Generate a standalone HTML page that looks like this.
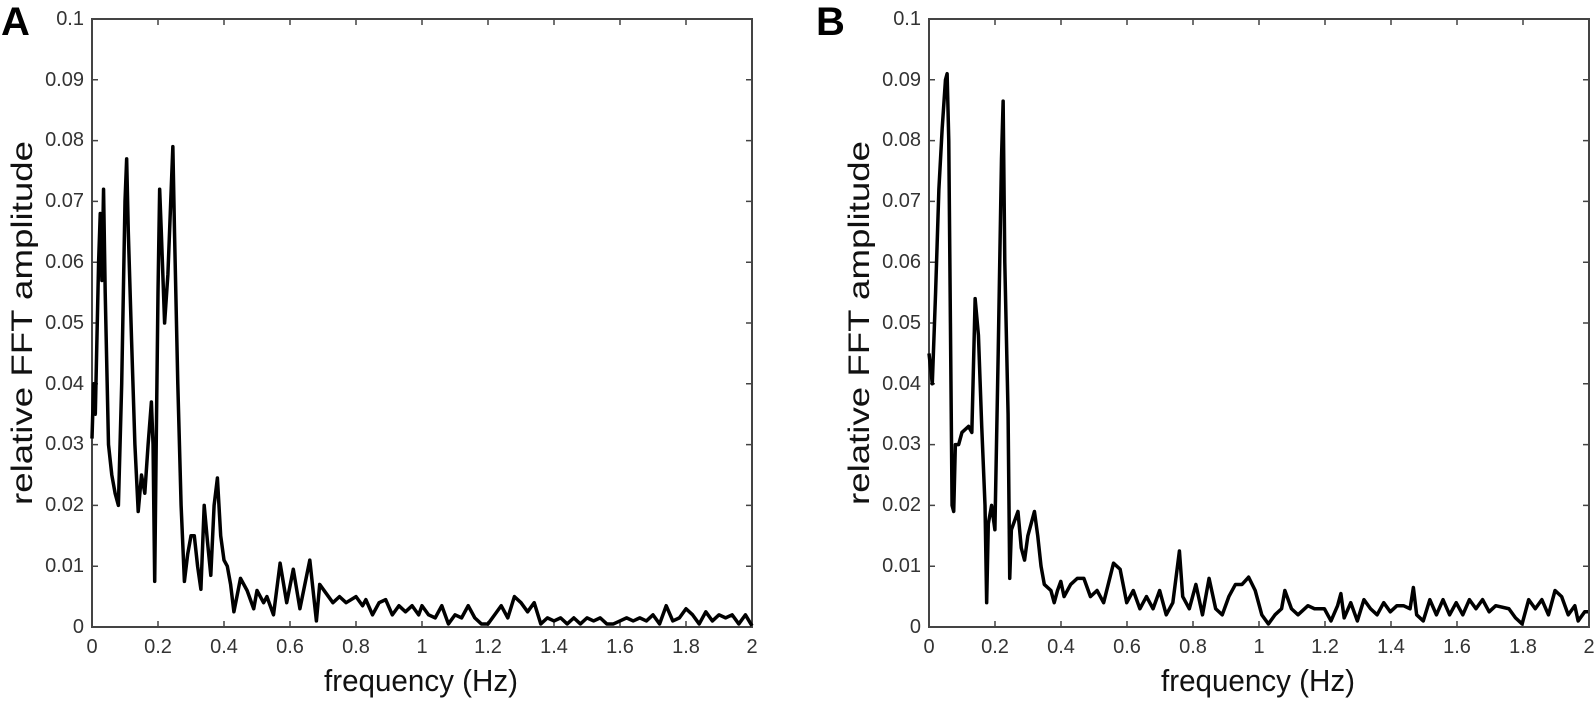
<!DOCTYPE html>
<html><head><meta charset="utf-8"><style>
html,body{margin:0;padding:0;background:#fff;}
svg{display:block;font-family:"Liberation Sans",Arial,sans-serif;}
</style></head><body>
<svg width="1594" height="705" viewBox="0 0 1594 705" xmlns="http://www.w3.org/2000/svg">
<defs>
<g id="axes">
  <rect x="0" y="0" width="660" height="608" fill="none" stroke="#444" stroke-width="2"/>
  <g stroke="#444" stroke-width="1.5">
    <path d="M66 608v-6M132 608v-6M198 608v-6M264 608v-6M330 608v-6M396 608v-6M462 608v-6M528 608v-6M594 608v-6"/>
    <path d="M66 0v6M132 0v6M198 0v6M264 0v6M330 0v6M396 0v6M462 0v6M528 0v6M594 0v6"/>
    <path d="M0 60.8h6M0 121.6h6M0 182.4h6M0 243.2h6M0 304h6M0 364.8h6M0 425.6h6M0 486.4h6M0 547.2h6"/>
    <path d="M660 60.8h-6M660 121.6h-6M660 182.4h-6M660 243.2h-6M660 304h-6M660 364.8h-6M660 425.6h-6M660 486.4h-6M660 547.2h-6"/>
  </g>
  <g font-size="20" fill="#333" text-anchor="end">
    <text x="-8" y="614">0</text><text x="-8" y="553">0.01</text><text x="-8" y="492">0.02</text>
    <text x="-8" y="431">0.03</text><text x="-8" y="371">0.04</text><text x="-8" y="310">0.05</text>
    <text x="-8" y="249">0.06</text><text x="-8" y="188">0.07</text><text x="-8" y="127">0.08</text>
    <text x="-8" y="67">0.09</text><text x="-8" y="6">0.1</text>
  </g>
  <g font-size="20" fill="#333" text-anchor="middle">
    <text x="0" y="634">0</text><text x="66" y="634">0.2</text><text x="132" y="634">0.4</text>
    <text x="198" y="634">0.6</text><text x="264" y="634">0.8</text><text x="330" y="634">1</text>
    <text x="396" y="634">1.2</text><text x="462" y="634">1.4</text><text x="528" y="634">1.6</text>
    <text x="594" y="634">1.8</text><text x="660" y="634">2</text>
  </g>
  <text x="232" y="672" font-size="31" textLength="194" lengthAdjust="spacingAndGlyphs" fill="#111">frequency (Hz)</text>
  <text transform="translate(-60,304) rotate(-90)" font-size="30" text-anchor="middle" textLength="364" lengthAdjust="spacingAndGlyphs" fill="#111">relative FFT amplitude</text>
</g>
</defs>

<g transform="translate(92,19)"><use href="#axes"/></g>
<g transform="translate(929,19)"><use href="#axes"/></g>
<text x="1" y="35" font-size="40" font-weight="bold" fill="#000">A</text>
<text x="816" y="35" font-size="40" font-weight="bold" fill="#000">B</text>

<g transform="translate(92,627) scale(330,-6080)">
<polyline fill="none" stroke="#000" stroke-width="3.5" vector-effect="non-scaling-stroke" stroke-linejoin="round" points="0,0.031 0.005,0.04 0.01,0.035 0.02,0.06 0.025,0.068 0.03,0.057 0.035,0.072 0.04,0.055 0.05,0.03 0.06,0.025 0.07,0.022 0.08,0.02 0.09,0.04 0.1,0.07 0.105,0.077 0.11,0.065 0.12,0.047 0.13,0.03 0.14,0.019 0.15,0.025 0.16,0.022 0.17,0.03 0.18,0.037 0.185,0.03 0.19,0.0075 0.195,0.032 0.2,0.055 0.205,0.072 0.21,0.065 0.22,0.05 0.23,0.058 0.24,0.072 0.245,0.079 0.25,0.065 0.26,0.04 0.27,0.02 0.28,0.0075 0.29,0.012 0.3,0.015 0.31,0.015 0.32,0.01 0.33,0.0062 0.34,0.02 0.35,0.014 0.36,0.0085 0.37,0.02 0.38,0.0245 0.39,0.015 0.4,0.011 0.41,0.01 0.42,0.007 0.43,0.0025 0.45,0.008 0.47,0.006 0.49,0.003 0.5,0.006 0.52,0.004 0.53,0.005 0.55,0.002 0.57,0.0105 0.59,0.004 0.61,0.0095 0.63,0.003 0.66,0.011 0.68,0.001 0.69,0.007 0.71,0.0055 0.73,0.004 0.75,0.005 0.77,0.004 0.8,0.005 0.82,0.0035 0.83,0.0045 0.85,0.002 0.87,0.004 0.89,0.0045 0.91,0.002 0.93,0.0035 0.95,0.0025 0.97,0.0035 0.99,0.002 1.0,0.0035 1.02,0.002 1.04,0.0015 1.06,0.0035 1.08,0.0005 1.1,0.002 1.12,0.0015 1.14,0.0035 1.16,0.0015 1.18,0.0005 1.2,0.0005 1.22,0.002 1.24,0.0035 1.26,0.0015 1.28,0.005 1.3,0.004 1.32,0.0025 1.34,0.004 1.36,0.0005 1.38,0.0015 1.4,0.001 1.42,0.0015 1.44,0.0005 1.46,0.0015 1.48,0.0005 1.5,0.0015 1.52,0.001 1.54,0.0015 1.56,0.0005 1.58,0.0005 1.6,0.001 1.62,0.0015 1.64,0.001 1.66,0.0015 1.68,0.001 1.7,0.002 1.72,0.0005 1.74,0.0035 1.76,0.001 1.78,0.0015 1.8,0.003 1.82,0.002 1.84,0.0005 1.86,0.0025 1.88,0.001 1.9,0.002 1.92,0.0015 1.94,0.002 1.96,0.0005 1.98,0.002 2.0,0.0002"/>
</g>

<g transform="translate(929,627) scale(329.5,-6080)">
<polyline fill="none" stroke="#000" stroke-width="3.5" vector-effect="non-scaling-stroke" stroke-linejoin="round" points="0,0.045 0.01,0.04 0.02,0.055 0.03,0.072 0.04,0.082 0.05,0.09 0.055,0.091 0.06,0.08 0.065,0.05 0.07,0.02 0.075,0.019 0.08,0.03 0.09,0.03 0.1,0.032 0.12,0.033 0.13,0.032 0.14,0.054 0.15,0.048 0.16,0.033 0.17,0.02 0.175,0.004 0.18,0.017 0.19,0.02 0.2,0.016 0.21,0.045 0.22,0.077 0.225,0.0865 0.23,0.06 0.24,0.035 0.245,0.008 0.25,0.016 0.27,0.019 0.28,0.013 0.29,0.011 0.3,0.015 0.32,0.019 0.33,0.015 0.34,0.01 0.35,0.007 0.37,0.006 0.38,0.004 0.39,0.006 0.4,0.0075 0.41,0.005 0.43,0.007 0.45,0.008 0.47,0.008 0.49,0.005 0.51,0.006 0.53,0.004 0.56,0.0105 0.58,0.0095 0.6,0.004 0.62,0.006 0.64,0.003 0.66,0.005 0.68,0.003 0.7,0.006 0.72,0.002 0.74,0.004 0.76,0.0125 0.77,0.005 0.79,0.003 0.81,0.007 0.83,0.002 0.85,0.008 0.87,0.003 0.89,0.002 0.91,0.005 0.93,0.007 0.95,0.007 0.97,0.0082 0.99,0.006 1.01,0.002 1.03,0.0005 1.05,0.002 1.07,0.003 1.08,0.006 1.1,0.003 1.12,0.002 1.15,0.0035 1.17,0.003 1.2,0.003 1.22,0.001 1.24,0.0035 1.25,0.0055 1.26,0.0015 1.28,0.004 1.3,0.001 1.32,0.0045 1.34,0.003 1.36,0.002 1.38,0.004 1.4,0.0025 1.42,0.0035 1.44,0.0035 1.46,0.003 1.47,0.0065 1.48,0.002 1.5,0.001 1.52,0.0045 1.54,0.002 1.56,0.0045 1.58,0.002 1.6,0.004 1.62,0.002 1.64,0.0045 1.66,0.003 1.68,0.0045 1.7,0.0025 1.72,0.0035 1.76,0.003 1.78,0.0015 1.8,0.0005 1.82,0.0045 1.84,0.003 1.86,0.0045 1.88,0.002 1.9,0.006 1.92,0.005 1.94,0.002 1.96,0.0035 1.97,0.001 1.99,0.0025 2.0,0.0025"/>
</g>
</svg>
</body></html>
